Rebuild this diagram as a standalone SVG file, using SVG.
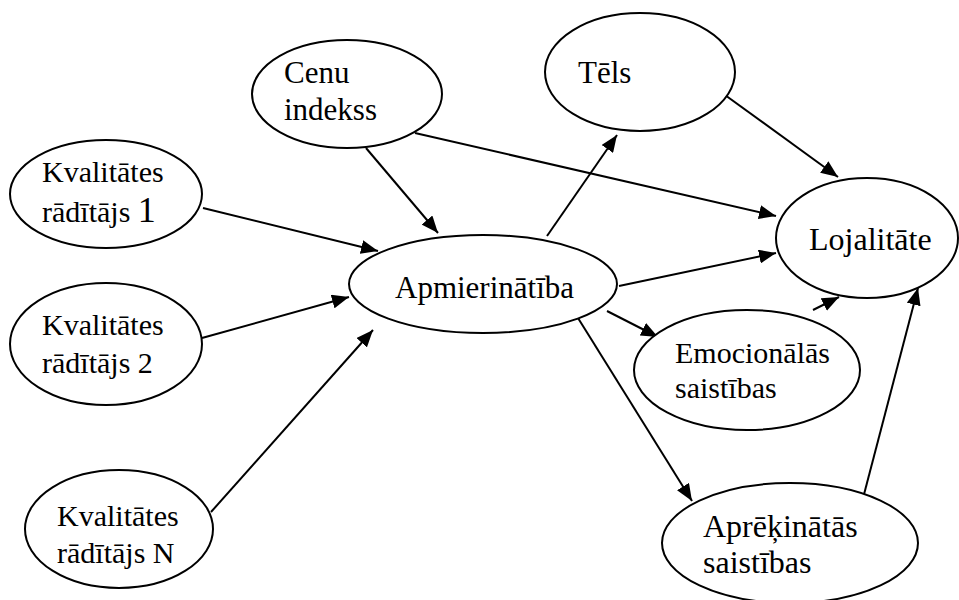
<svg xmlns="http://www.w3.org/2000/svg" width="959" height="600" viewBox="0 0 959 600">
  <style>
    .node ellipse { fill: #ffffff; stroke: #000000; stroke-width: 2; }
    .node text { font-family: "Liberation Serif", "Times New Roman", serif; fill: #000000; }
    .edges line { stroke: #000000; stroke-width: 2; fill: none; }
  </style>
  <defs>
    <marker id="arrow" markerUnits="userSpaceOnUse" markerWidth="18" markerHeight="14" refX="17" refY="7" orient="auto">
      <path d="M0,0 L17,7 L0,14 z" fill="#000000"/>
    </marker>
  </defs>

  <rect width="959" height="600" fill="#ffffff"/>

  <!-- connectors -->
  <g id="edges" class="edges">
    <line x1="203" y1="208" x2="378" y2="251" marker-end="url(#arrow)"/>
    <line x1="202" y1="338" x2="349" y2="297" marker-end="url(#arrow)"/>
    <line x1="211" y1="512" x2="373" y2="330" marker-end="url(#arrow)"/>
    <line x1="366" y1="148" x2="438" y2="233" marker-end="url(#arrow)"/>
    <line x1="415" y1="133" x2="776" y2="216" marker-end="url(#arrow)"/>
    <line x1="547" y1="236" x2="617" y2="135" marker-end="url(#arrow)"/>
    <line x1="725" y1="95" x2="838" y2="177" marker-end="url(#arrow)"/>
    <line x1="619" y1="286" x2="776" y2="253" marker-end="url(#arrow)"/>
    <line x1="607" y1="311" x2="658" y2="337" marker-end="url(#arrow)"/>
    <line x1="813" y1="310" x2="839" y2="297" marker-end="url(#arrow)"/>
    <line x1="578" y1="318" x2="692" y2="501" marker-end="url(#arrow)"/>
    <line x1="862" y1="502" x2="918" y2="288" marker-end="url(#arrow)"/>
  </g>

  <g id="cenu-indekss" class="node">
    <ellipse cx="347" cy="94" rx="95" ry="54"/>
    <text x="284" y="83" font-size="31">Cenu</text>
    <text x="284" y="120" font-size="31">indekss</text>
  </g>

  <g id="tels" class="node">
    <ellipse cx="640" cy="72" rx="95" ry="59"/>
    <text x="578" y="83" font-size="31">Tēls</text>
  </g>

  <g id="kvalitates-1" class="node">
    <ellipse cx="106" cy="194" rx="96" ry="54"/>
    <text x="42" y="182" font-size="30">Kvalitātes</text>
    <text x="42" y="222" font-size="30">rādītājs <tspan font-size="36">1</tspan></text>
  </g>

  <g id="kvalitates-2" class="node">
    <ellipse cx="106" cy="344" rx="96" ry="61"/>
    <text x="42" y="335" font-size="30">Kvalitātes</text>
    <text x="42" y="373" font-size="30">rādītājs 2</text>
  </g>

  <g id="kvalitates-n" class="node">
    <ellipse cx="119" cy="529" rx="94" ry="59"/>
    <text x="57" y="526" font-size="30">Kvalitātes</text>
    <text x="57" y="563" font-size="30">rādītājs N</text>
  </g>

  <g id="apmierinatiba" class="node">
    <ellipse cx="483" cy="284" rx="134" ry="49"/>
    <text x="395" y="298" font-size="31">Apmierinātība</text>
  </g>

  <g id="lojalitate" class="node">
    <ellipse cx="867" cy="238" rx="91" ry="60"/>
    <text x="809" y="250" font-size="32">Lojalitāte</text>
  </g>

  <g id="emocionalas-saistibas" class="node">
    <ellipse cx="747" cy="370" rx="113" ry="60"/>
    <text x="675" y="363" font-size="30">Emocionālās</text>
    <text x="675" y="398" font-size="30">saistības</text>
  </g>

  <g id="aprekinatas-saistibas" class="node">
    <ellipse cx="790" cy="543" rx="128" ry="60"/>
    <text x="703" y="537" font-size="32">Aprēķinātās</text>
    <text x="703" y="573" font-size="32">saistības</text>
  </g>
</svg>
